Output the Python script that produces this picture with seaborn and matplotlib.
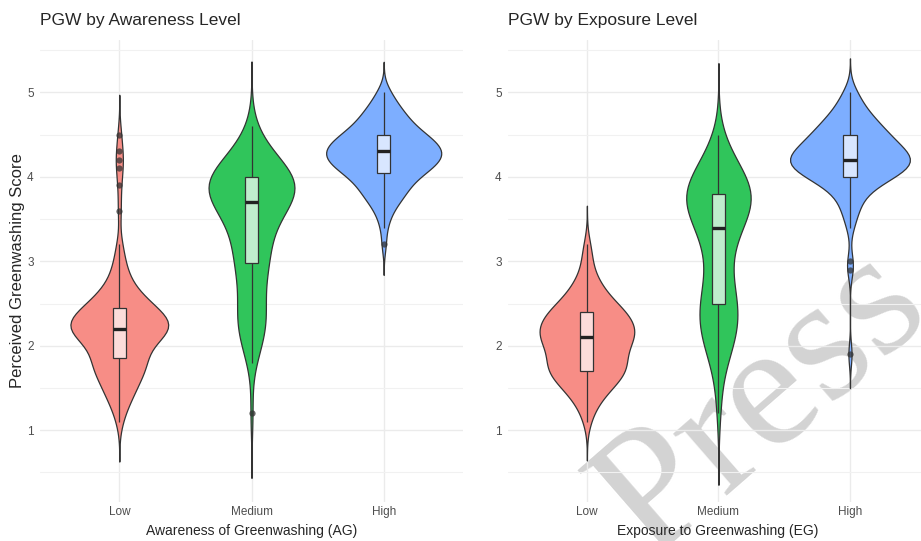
import numpy as np
import pandas as pd
import matplotlib
matplotlib.use("Agg")
import matplotlib.pyplot as plt
import seaborn as sns

levels = ["Low", "Medium", "High"]

# Awareness of Greenwashing (AG): score values and how many respondents had each
ag_low_vals = [1.1, 1.2, 1.3, 1.4, 1.5, 1.6, 1.7, 1.8, 1.9, 2.0, 2.1, 2.2, 2.3, 2.4, 2.5, 2.6, 2.7, 2.8,
               2.9, 3.0, 3.1, 3.2, 3.6, 3.9, 4.1, 4.2, 4.3, 4.5]
ag_low_counts = [1, 1, 2, 3, 4, 4, 6, 7, 5, 6, 9, 14, 12, 9, 7, 5, 3, 2,
                 2, 1, 1, 1, 1, 1, 1, 1, 1, 1]
ag_med_vals = [1.2, 1.8, 1.9, 2.0, 2.1, 2.2, 2.3, 2.4, 2.5, 2.6, 2.7, 2.8, 2.9, 3.0, 3.1, 3.2, 3.3, 3.4,
               3.5, 3.6, 3.7, 3.8, 3.9, 4.0, 4.1, 4.2, 4.3, 4.4, 4.5, 4.6]
ag_med_counts = [1, 1, 1, 2, 2, 3, 3, 3, 2, 2, 2, 2, 3, 4, 3, 3, 3, 4,
                 4, 5, 8, 9, 10, 10, 6, 5, 3, 2, 1, 1]
ag_high_vals = [3.2, 3.4, 3.5, 3.6, 3.7, 3.8, 3.9, 4.0, 4.1, 4.2, 4.3, 4.4, 4.5, 4.6, 4.7, 4.8, 4.9, 5.0]
ag_high_counts = [1, 1, 1, 2, 3, 5, 5, 7, 10, 12, 13, 11, 9, 6, 5, 4, 2, 2]

# Exposure to Greenwashing (EG)
eg_low_vals = [1.1, 1.2, 1.3, 1.4, 1.5, 1.6, 1.7, 1.8, 1.9, 2.0, 2.1, 2.2, 2.3, 2.4, 2.5, 2.6, 2.7, 2.8,
               2.9, 3.0, 3.1, 3.2]
eg_low_counts = [1, 1, 2, 3, 5, 6, 9, 8, 6, 8, 10, 10, 8, 9, 5, 4, 3, 2,
                 1, 1, 1, 1]
eg_med_vals = [1.2, 1.4, 1.6, 1.8, 1.9, 2.0, 2.1, 2.2, 2.3, 2.4, 2.5, 2.6, 2.7, 2.8, 2.9, 3.0, 3.1, 3.2,
               3.3, 3.4, 3.5, 3.6, 3.7, 3.8, 3.9, 4.0, 4.1, 4.2, 4.3, 4.4, 4.5]
eg_med_counts = [1, 1, 1, 2, 2, 3, 3, 4, 4, 4, 4, 3, 3, 2, 2, 2, 2, 3,
                 3, 4, 5, 6, 8, 8, 7, 5, 4, 3, 2, 1, 1]
eg_high_vals = [1.9, 2.9, 3.0, 3.4, 3.5, 3.6, 3.7, 3.8, 3.9, 4.0, 4.1, 4.2, 4.3, 4.4, 4.5, 4.6, 4.7, 4.8,
                4.9, 5.0]
eg_high_counts = [1, 1, 1, 1, 1, 2, 2, 3, 5, 9, 12, 14, 11, 9, 8, 6, 5, 3,
                  2, 2]

# styling
fills = ["#F78D86", "#30C55B", "#7DAEFF"]
ag_widths = [0.74, 0.65, 0.87]
eg_widths = [0.72, 0.49, 0.91]
line_col = "#333333"


def build(groups):
    parts = []
    for level, (vals, counts) in zip(levels, groups):
        parts.append(pd.DataFrame({"level": level, "score": np.repeat(vals, counts)}))
    return pd.concat(parts, ignore_index=True)


def nrd0(kde):
    # R's default bandwidth (bw.nrd0), returned as a factor of the sd
    x = np.asarray(kde.dataset).ravel()
    sd = x.std(ddof=1)
    q75, q25 = np.percentile(x, [75, 25])
    lo = min(sd, (q75 - q25) / 1.34)
    return 0.9 * lo * len(x) ** -0.2 / sd


ag = build([(ag_low_vals, ag_low_counts), (ag_med_vals, ag_med_counts), (ag_high_vals, ag_high_counts)])
eg = build([(eg_low_vals, eg_low_counts), (eg_med_vals, eg_med_counts), (eg_high_vals, eg_high_counts)])

sns.set_style("white")
plt.rcParams["font.family"] = ["Liberation Sans", "DejaVu Sans"]

fig = plt.figure(figsize=(9.21, 5.41), dpi=100)
ax1 = fig.add_axes([40 / 921, 1 - 502 / 541, 423 / 921, 462 / 541])
ax2 = fig.add_axes([508 / 921, 1 - 502 / 541, 413 / 921, 462 / 541])


def panel(ax, df, widths, title, xlabel, ylabel, xlim, xlab_x):
    for level, fill, w in zip(levels, fills, widths):
        sub = df[df["level"] == level]
        sns.violinplot(data=sub, x="level", y="score", order=levels, color=fill,
                       saturation=1, width=w, cut=3, bw_method=nrd0, inner=None,
                       linewidth=0.9, linecolor=line_col, ax=ax)
    sns.boxplot(data=df, x="level", y="score", order=levels, width=0.1, color="white",
                saturation=1, linecolor=line_col, linewidth=0.9, whis=1.5, showcaps=False,
                flierprops=dict(marker="o", markersize=4.5, markerfacecolor=line_col,
                                markeredgecolor="none", alpha=0.75),
                medianprops=dict(linewidth=2.4, color="#222222"), ax=ax)
    for p in ax.patches:
        p.set_facecolor((1, 1, 1, 0.7))
    ax.set_facecolor("none")
    ax.set_xlim(*xlim)
    ax.set_ylim(0.15, 5.62)
    ax.set_yticks([1, 2, 3, 4, 5])
    ax.set_yticks([0.5, 1.5, 2.5, 3.5, 4.5, 5.5], minor=True)
    ax.grid(True, which="major", color="#EBEBEB", linewidth=1.0)
    ax.grid(True, which="minor", axis="y", color="#F1F1F1", linewidth=0.8)
    ax.set_axisbelow(True)
    for s in ax.spines.values():
        s.set_visible(False)
    ax.tick_params(which="both", length=0, labelsize=8.5, labelcolor="#4D4D4D")
    ax.tick_params(axis="y", pad=4.5)
    ax.tick_params(axis="x", pad=3)
    ax.set_title(title, loc="left", fontsize=12.5, pad=11)
    ax.set_xlabel(xlabel, fontsize=10)
    ax.xaxis.set_label_coords(xlab_x, -0.048)
    ax.set_ylabel(ylabel, fontsize=12)
    ax.yaxis.set_label_coords(-0.035, 0.5)


panel(ax1, ag, ag_widths, "PGW by Awareness Level", "Awareness of Greenwashing (AG)",
      "Perceived Greenwashing Score", (-0.6, 2.6), 0.5)
panel(ax2, eg, eg_widths, "PGW by Exposure Level", "Exposure to Greenwashing (EG)",
      "", (-0.6, 2.54), 0.508)

fig.text(763 / 921, 1 - 403 / 541, "Press", fontsize=128, family="Liberation Serif",
         color="#D3D3D3", rotation=41, ha="center", va="center", rotation_mode="anchor",
         zorder=-1)

fig.savefig("out.png", dpi=100, facecolor="white")
